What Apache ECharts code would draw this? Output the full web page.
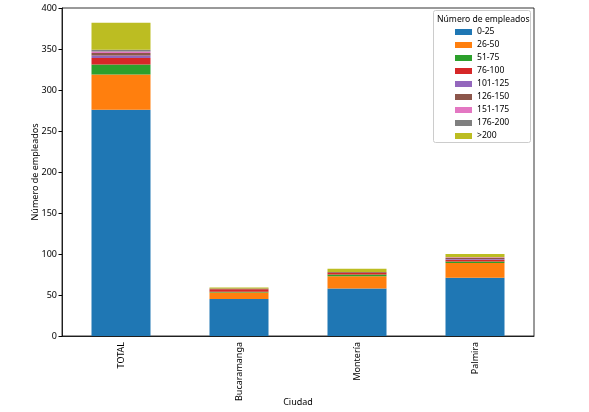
<!DOCTYPE html>
<html>
<head>
<meta charset="utf-8">
<script src="https://cdn.jsdelivr.net/npm/echarts@6/dist/echarts.min.js"></script>
<style>
  html, body { margin: 0; padding: 0; background: #fff; }
  #chart { width: 589px; height: 412px; }
</style>
</head>
<body>
<div id="chart"></div>
<script>
// ciudades y rangos de empleados
var ciudades = ['TOTAL', 'Bucaramanga', 'Montería', 'Palmira'];
var rangos = ['0-25', '26-50', '51-75', '76-100', '101-125', '126-150', '151-175', '176-200', '>200'];
var colores = ['#1f77b4', '#ff7f0e', '#2ca02c', '#d62728', '#9467bd', '#8c564b', '#e377c2', '#7f7f7f', '#bcbd22'];
var yTicks = [0, 50, 100, 150, 200, 250, 300, 350, 400];

// valores por rango (TOTAL, Bucaramanga, Montería, Palmira)
var r0_25    = [276, 45, 58, 71];
var r26_50   = [43, 8, 15, 18];
var r51_75   = [12, 1, 2, 2];
var r76_100  = [8, 3, 2, 2];
var r101_125 = [3, 0, 0, 1];
var r126_150 = [3, 1, 1, 1];
var r151_175 = [2, 0, 0, 1];
var r176_200 = [2, 0, 0, 0];
var rMas200  = [33, 1, 4, 4];

var valores = [r0_25, r26_50, r51_75, r76_100, r101_125, r126_150, r151_175, r176_200, rMas200];

var fuente = 'Noto Sans';

function initChart() {
    var myChart = echarts.init(document.getElementById('chart'), null, {renderer: 'canvas'});

    var series = rangos.map(function (r, i) {
        return {
            name: r,
            type: 'bar',
            stack: 'total',
            barWidth: '50%',
            data: valores[i],
            itemStyle: {color: colores[i]},
            emphasis: {disabled: true}
        };
    });

    myChart.setOption({
        animation: false,
        textStyle: {fontFamily: fuente},
        grid: {
            left: 62, right: 55, top: 8, bottom: 76,
            show: true, borderColor: '#000', borderWidth: 0.8,
            containLabel: false,
            outerBoundsMode: 'none'
        },
        // caja de la leyenda
        graphic: [
            {
                type: 'rect',
                shape: {x: 433.5, y: 10.5, width: 97, height: 132, r: 2},
                style: {fill: '#fff', stroke: '#ccc', lineWidth: 1},
                z: 5
            },
            {
                type: 'text',
                left: 437, top: 15,
                style: {text: 'Número de empleados', font: '8.6px "Noto Sans"', fill: '#000'},
                z: 6
            }
        ],
        legend: {
            orient: 'vertical',
            left: 450, top: 21,
            itemWidth: 17, itemHeight: 6,
            itemGap: 1,
            icon: 'rect',
            textStyle: {fontSize: 8.6, fontFamily: fuente, color: '#000', lineHeight: 12},
            data: rangos,
            z: 7
        },
        xAxis: {
            type: 'category',
            data: ciudades,
            name: 'Ciudad',
            nameLocation: 'middle',
            nameGap: 62,
            nameMoveOverlap: false,
            nameTextStyle: {fontSize: 9, color: '#000', fontFamily: fuente},
            axisLine: {lineStyle: {color: '#000', width: 0.8}},
            axisTick: {alignWithLabel: true, length: 3.5, lineStyle: {color: '#000'}},
            axisLabel: {rotate: 90, fontSize: 9, color: '#000', margin: 6, fontFamily: fuente},
            splitLine: {show: false}
        },
        yAxis: {
            type: 'value',
            min: yTicks[0],
            max: yTicks[yTicks.length - 1],
            interval: 50,
            name: 'Número de empleados',
            nameLocation: 'middle',
            nameGap: 22,
            nameMoveOverlap: false,
            nameTextStyle: {fontSize: 9, color: '#000', fontFamily: fuente},
            axisLine: {show: true, lineStyle: {color: '#000', width: 0.8}},
            axisTick: {show: true, length: 3.5, lineStyle: {color: '#000'}},
            axisLabel: {fontSize: 9, color: '#000', margin: 5, fontFamily: fuente},
            splitLine: {show: false}
        },
        series: series
    });
}

initChart();
</script>
</body>
</html>
